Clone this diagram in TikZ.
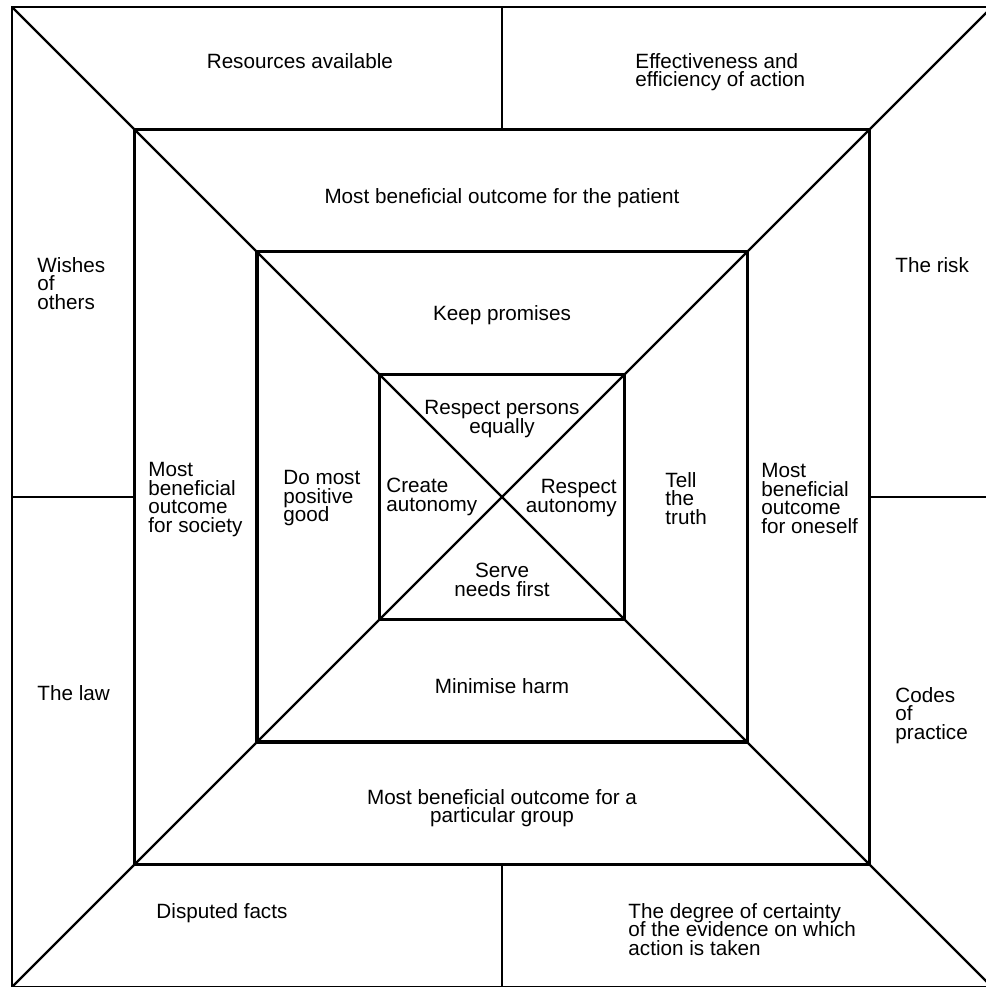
\documentclass[tikz,border=0pt]{standalone}
\usepackage{fontspec}
\setmainfont{Liberation Sans}
\setlength{\lineskiplimit}{-6pt}
\tikzstyle{lbl}=[inner sep=0pt,font=\fontsize{9.6}{8.6}\selectfont]
\tikzstyle{lbll}=[lbl,align=left,anchor=north west]
\tikzstyle{lblc}=[lbl,align=center,anchor=north]
\tikzstyle{lblr}=[lbl,align=right,anchor=north east]
\tikzstyle{outline}=[line width=0.7pt]
\tikzstyle{diagline}=[line width=1pt]
\tikzstyle{boxline}=[line width=1.4pt]

\begin{document}
\begin{tikzpicture}[x=2cm,y=2cm]
    \useasboundingbox (-4.098,-4.0) rectangle (3.943,4.057);
    \draw[outline] (4,4) -- (-4,4) -- (-4,-4) -- (4,-4);
    \foreach \from/\to in {0/3,0/4, 0/-3,0/-4, -3/0,-4/0, 3/0,4/0}
    \coordinate (p\from\to) at (\from,\to);
    \draw[outline] (p03) -- (p04);
    \draw[outline] (p0-3) -- (p0-4);
    \draw[outline] (p-30) -- (p-40);
    \draw[outline] (p30) -- (p40);
    \draw[diagline] (-4,4) -- (4,-4);
    \draw[diagline] (-4,-4) -- (4,4);
    \foreach \s in {1,2,3}
    \draw[boxline] (-\s,-\s) rectangle (\s,\s);

    \node[lblc] (resources) at (-1.65,3.624) {Resources available};
    \node[lbll] (effective) at (1.086,3.624) {Effectiveness and\\efficiency of action};
    \node[lblc] (patient) at (0,2.522) {Most beneficial outcome for the patient};
    \node[lbll] (wishes) at (-3.796,1.959) {Wishes\\of\\others};
    \node[lbll] (risk) at (3.208,1.959) {The risk};
    \node[lblc] (promises) at (0,1.567) {Keep promises};
    \node[lblc] (equally) at (0,0.792) {Respect persons\\equally};
    \node[lbll] (society) at (-2.890,0.286) {Most\\beneficial\\outcome\\for society};
    \node[lbll] (dogood) at (-1.788,0.220) {Do most\\positive\\good};
    \node[lbll] (create) at (-0.947,0.155) {Create\\autonomy};
    \node[lblr] (respect) at (0.939,0.147) {Respect\\autonomy};
    \node[lbll] (truth) at (1.331,0.204) {Tell\\the\\truth};
    \node[lbll] (oneself) at (2.114,0.278) {Most\\beneficial\\outcome\\for oneself};
    \node[lblc] (serve) at (0,-0.539) {Serve\\needs first};
    \node[lblc] (harm) at (0,-1.478) {Minimise harm};
    \node[lbll] (law) at (-3.796,-1.535) {The law};
    \node[lbll] (codes) at (3.208,-1.551) {Codes\\of\\practice};
    \node[lblc] (group) at (0,-2.384) {Most beneficial outcome for a\\particular group};
    \node[lbll] (disputed) at (-2.824,-3.314) {Disputed facts};
    \node[lbll] (degree) at (1.029,-3.314) {The degree of certainty\\of the evidence on which\\action is taken};
\end{tikzpicture}
\end{document}
